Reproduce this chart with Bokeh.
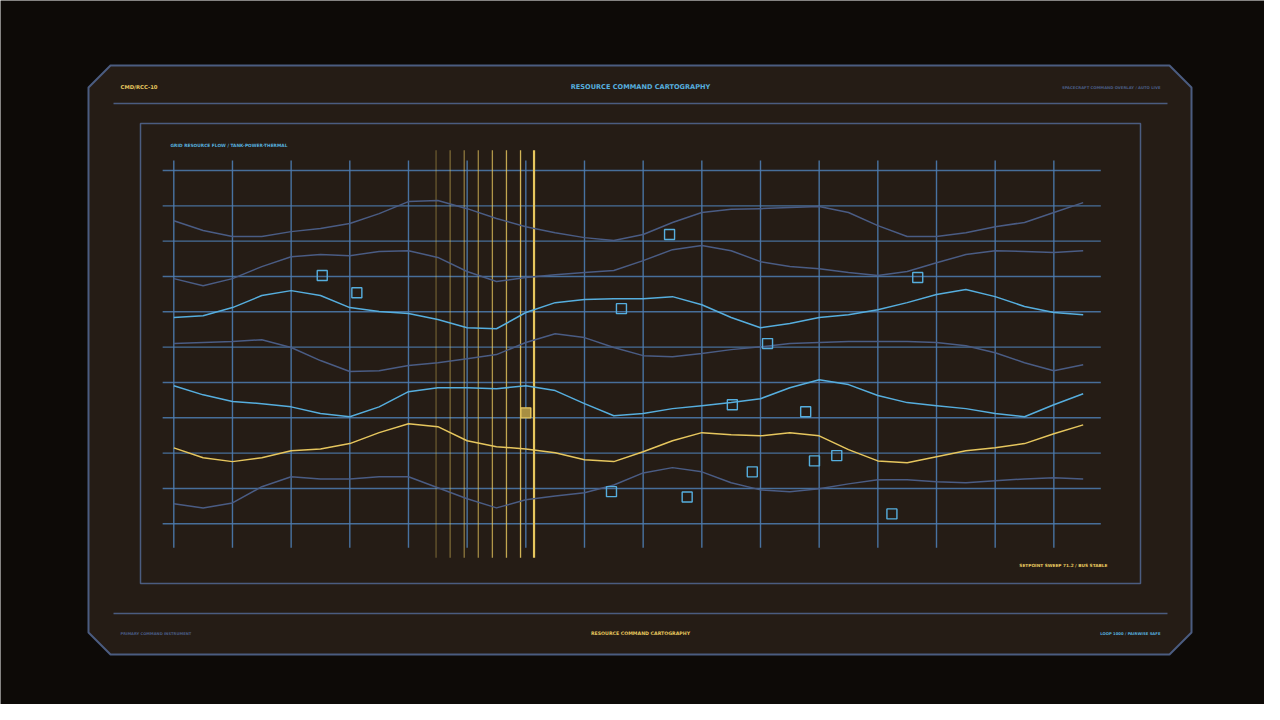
from bokeh.plotting import figure
from bokeh.models import Range1d, ColumnDataSource
from bokeh.embed import file_html
from bokeh.resources import INLINE
from bokeh.core.properties import value

# ---------------- data ----------------
sample_x = [0, 0.5, 1, 1.5, 2, 2.5, 3, 3.5, 4, 4.5, 5, 5.5, 6, 6.5, 7, 7.5,
            8, 8.5, 9, 9.5, 10, 10.5, 11, 11.5, 12, 12.5, 13, 13.5, 14, 14.5, 15, 15.5]

tank_upper = [85.8, 83.0, 81.3, 81.3, 82.7, 83.6, 85.0, 87.8, 91.2, 91.5, 89.2, 86.4, 84.1, 82.4, 81.0, 80.2,
              81.9, 85.3, 88.1, 89.0, 89.2, 89.5, 89.8, 88.1, 84.4, 81.3, 81.3, 82.4, 84.1, 85.3, 88.1, 90.9]
tank_lower = [69.4, 67.4, 69.4, 72.8, 75.6, 76.2, 75.9, 77.1, 77.3, 75.4, 71.4, 68.6, 69.7, 70.5, 71.1, 71.7,
              74.5, 77.6, 78.8, 77.3, 74.2, 72.8, 72.2, 71.1, 70.3, 71.4, 73.9, 76.2, 77.3, 77.1, 76.8, 77.3]
power_main = [58.4, 58.9, 61.2, 64.6, 66.0, 64.6, 61.2, 60.1, 59.5, 57.8, 55.5, 55.2, 59.8, 62.6, 63.5, 63.7,
              63.7, 64.3, 62.0, 58.4, 55.5, 56.7, 58.4, 59.2, 60.6, 62.6, 64.9, 66.3, 64.3, 61.5, 59.8, 59.2]
power_aux = [51.0, 51.3, 51.6, 52.1, 49.9, 46.2, 43.1, 43.3, 44.8, 45.6, 46.7, 47.9, 51.3, 53.8, 52.7, 49.9,
             47.6, 47.3, 48.2, 49.3, 50.1, 51.0, 51.3, 51.6, 51.6, 51.6, 51.3, 50.4, 48.4, 45.6, 43.3, 45.0]
thermal_main = [39.1, 36.5, 34.6, 34.0, 33.1, 31.2, 30.3, 33.1, 37.4, 38.5, 38.5, 38.2, 39.1, 37.7, 34.0, 30.6,
                31.2, 32.6, 33.4, 34.3, 35.4, 38.5, 40.8, 39.4, 36.3, 34.3, 33.4, 32.6, 31.2, 30.3, 33.7, 36.8]
setpoint = [21.5, 18.7, 17.6, 18.7, 20.7, 21.2, 22.7, 25.8, 28.3, 27.5, 23.5, 21.8, 21.2, 20.1, 18.1, 17.6,
            20.4, 23.5, 25.8, 25.2, 24.9, 25.8, 24.9, 21.0, 17.8, 17.3, 19.0, 20.7, 21.5, 22.7, 25.5, 28.0]
thermal_aux = [5.7, 4.5, 5.9, 10.5, 13.3, 12.7, 12.7, 13.3, 13.3, 10.2, 7.1, 4.5, 6.8, 7.9, 8.8, 11.0,
               14.4, 15.9, 14.7, 11.6, 9.6, 9.1, 9.9, 11.3, 12.5, 12.5, 11.9, 11.6, 12.2, 12.7, 13.0, 12.7]

marker_x = [2.53, 3.12, 8.45, 7.63, 12.68, 10.12, 9.52, 10.77, 9.86, 10.92, 11.30, 7.46, 8.75, 12.24]
marker_y = [70.3, 65.4, 81.9, 60.9, 69.7, 51.0, 33.7, 31.7, 14.7, 17.8, 19.3, 9.1, 7.6, 2.8]

cursor_x = [6.0]
cursor_y = [31.4]

sweep_x = [4.47, 4.71, 4.95, 5.19, 5.43, 5.67, 5.91, 6.14]

grid_cols = [0, 1, 2, 3, 4, 5, 6, 7, 8, 9, 10, 11, 12, 13, 14, 15]
grid_rows = [0, 10, 20, 30, 40, 50, 60, 70, 80, 90, 100]

# ---------------- style ----------------
BG = "#0d0a07"
PANEL = "#251c15"
EDGE = "#4b5c80"
GRID = "#4d7cb0"
DIM = "#4a5c84"
BLUE = "#56aede"
YELLOW = "#e6c65e"
FONT = value("DejaVu Sans")

W, H = 1264, 704
# pixel layout of chart grid (screen coords)
X0, DX = 173.3, 58.67     # x of column 0, px per column
Y0, DY = 523.3, 3.533     # y of value 0, px per unit

p = figure(width=W, height=H, x_range=Range1d(0, W), y_range=Range1d(H, 0),
           output_backend="svg", toolbar_location=None, min_border=0,
           x_axis_location=None, y_axis_location=None,
           background_fill_color=BG, border_fill_color=BG, outline_line_color=None)
p.grid.visible = False
p.extra_x_ranges = {"cx": Range1d(start=(0 - X0) / DX, end=(W - X0) / DX)}
p.extra_y_ranges = {"cy": Range1d(start=(Y0 - H) / DY, end=(Y0 - 0) / DY)}

# panel
c = 22
L, R, T, B = 88, 1191, 65, 654
p.patch([L + c, R - c, R, R, R - c, L + c, L, L], [T, T, T + c, B - c, B, B, B - c, T + c],
        fill_color=PANEL, line_color=EDGE, line_width=2)
p.segment(x0=[113, 113], y0=[103, 613], x1=[1167, 1167], y1=[103, 613], line_color=EDGE, line_width=1.5)
p.quad(left=[140], right=[1140], top=[123], bottom=[583], fill_alpha=0, line_color=EDGE, line_width=1.5)

# texts
def txt(x, y, s, size, color, align):
    p.text(x=[x], y=[y], text=[s], text_font=FONT, text_font_style="bold", text_font_size=size,
           text_color=color, text_align=align, text_baseline="middle")

txt(120, 86, "CMD/RCC-10", "5.3px", YELLOW, "left")
txt(640, 86, "RESOURCE COMMAND CARTOGRAPHY", "6.6px", BLUE, "center")
txt(1160, 87, "SPACECRAFT COMMAND OVERLAY / AUTO LIVE", "3.8px", DIM, "right")
txt(120, 633, "PRIMARY COMMAND INSTRUMENT", "3.7px", DIM, "left")
txt(640, 633, "RESOURCE COMMAND CARTOGRAPHY", "4.7px", YELLOW, "center")
txt(1160, 633, "LOOP 1000 / PAIRWISE SAFE", "3.8px", BLUE, "right")
txt(170, 145, "GRID RESOURCE FLOW / TANK-POWER-THERMAL", "4.35px", BLUE, "left")
txt(1107, 565, "SETPOINT SWEEP 71.2 / BUS STABLE", "4.3px", YELLOW, "right")

kw = dict(x_range_name="cx", y_range_name="cy")

# grid
p.segment(x0=grid_cols, x1=grid_cols, y0=[-6.8] * len(grid_cols), y1=[102.8] * len(grid_cols),
          line_color=GRID, line_width=1.4, line_alpha=0.9, **kw)
p.segment(x0=[-0.19] * len(grid_rows), x1=[15.8] * len(grid_rows), y0=grid_rows, y1=grid_rows,
          line_color=GRID, line_width=1.4, line_alpha=0.85, **kw)

# sweep lines
n = len(sweep_x)
sweep_src = ColumnDataSource(dict(
    x=sweep_x, y0=[-9.6] * n, y1=[105.7] * n,
    a=[0.35 + 0.65 * i / (n - 1) for i in range(n)],
    w=[1.3] * (n - 1) + [2.2]))
p.segment(x0="x", x1="x", y0="y0", y1="y1", line_color=YELLOW, line_alpha="a", line_width="w",
          source=sweep_src, **kw)

# curves
for ys, col in [(tank_upper, DIM), (tank_lower, DIM), (power_main, BLUE), (power_aux, DIM),
                (thermal_main, BLUE), (setpoint, YELLOW), (thermal_aux, DIM)]:
    p.line(sample_x, ys, line_color=col, line_width=1.5, line_join="round", **kw)

# markers
p.scatter(marker_x, marker_y, marker="square", size=10, fill_alpha=0, line_color=BLUE, line_width=1.4, **kw)
p.scatter(cursor_x, cursor_y, marker="square", size=10, fill_color="#a88f42", line_color=YELLOW,
          line_width=1.4, **kw)

html = file_html(p, INLINE)
html = html.replace("<body>", '<body style="margin:8px;background:#0d0a07;">', 1)
open("out.html", "w").write(html)
